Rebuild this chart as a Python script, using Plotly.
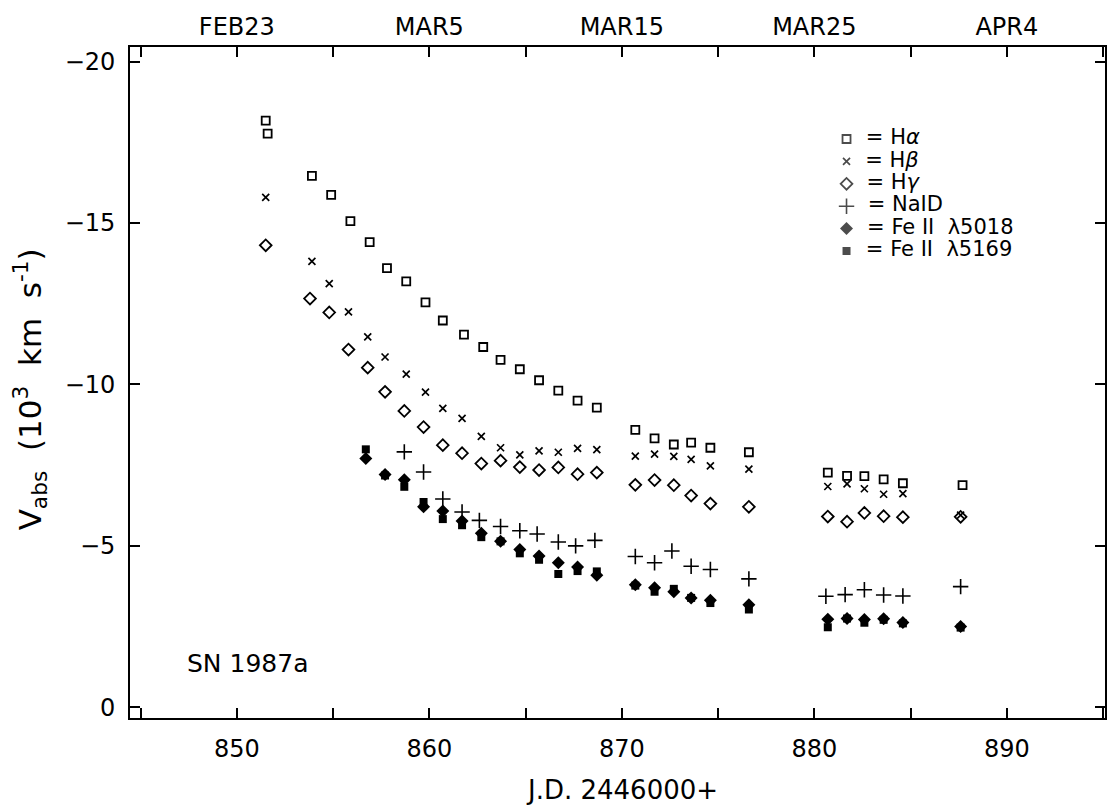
import plotly.graph_objects as go

# ---------------- data ----------------
ha_jd = [851.5, 851.6, 853.9, 854.9, 855.9, 856.9, 857.8, 858.8, 859.8, 860.7,
         861.8, 862.8, 863.7, 864.7, 865.7, 866.7, 867.7, 868.7, 870.7, 871.7,
         872.7, 873.6, 874.6, 876.6, 880.7, 881.7, 882.6, 883.6, 884.6, 887.7]
ha_v = [-18.17, -17.77, -16.46, -15.87, -15.06, -14.41, -13.60, -13.19, -12.54, -11.98,
        -11.54, -11.16, -10.76, -10.47, -10.13, -9.81, -9.50, -9.28, -8.59, -8.33,
        -8.14, -8.20, -8.04, -7.90, -7.27, -7.17, -7.16, -7.06, -6.94, -6.88]

hb_jd = [851.5, 853.9, 854.8, 855.8, 856.8, 857.7, 858.8, 859.8, 860.7,
         861.7, 862.7, 863.7, 864.7, 865.7, 866.7, 867.7, 868.7,
         870.7, 871.7, 872.7, 873.6, 874.6, 876.6,
         880.7, 881.7, 882.6, 883.6, 884.6, 887.6]
hb_v = [-15.79, -13.81, -13.12, -12.25, -11.47, -10.85, -10.32, -9.76, -9.26,
        -8.95, -8.39, -8.04, -7.82, -7.94, -7.90, -8.02, -7.98,
        -7.78, -7.84, -7.77, -7.68, -7.48, -7.38,
        -6.84, -6.92, -6.77, -6.60, -6.62, -5.95]

hg_jd = [851.5, 853.8, 854.8, 855.8, 856.8, 857.7, 858.7, 859.7, 860.7,
         861.7, 862.7, 863.7, 864.7, 865.7, 866.7, 867.7, 868.7,
         870.7, 871.7, 872.7, 873.6, 874.6, 876.6,
         880.7, 881.7, 882.6, 883.6, 884.6, 887.6]
hg_v = [-14.31, -12.66, -12.23, -11.08, -10.52, -9.77, -9.18, -8.68, -8.12,
        -7.87, -7.55, -7.64, -7.44, -7.35, -7.43, -7.22, -7.27,
        -6.89, -7.04, -6.88, -6.56, -6.31, -6.21,
        -5.91, -5.75, -6.02, -5.92, -5.89, -5.90]

na_jd = [858.7, 859.7, 860.7, 861.7, 862.6, 863.7, 864.7, 865.6, 866.7, 867.6, 868.6,
         870.7, 871.7, 872.6, 873.6, 874.6, 876.6,
         880.6, 881.6, 882.6, 883.6, 884.6, 887.6]
na_v = [-7.91, -7.29, -6.45, -6.05, -5.79, -5.60, -5.47, -5.37, -5.12, -5.00, -5.17,
        -4.67, -4.48, -4.84, -4.37, -4.27, -3.98,
        -3.44, -3.49, -3.64, -3.48, -3.45, -3.74]

fe_jd = [856.7, 857.7, 858.7, 859.7, 860.7, 861.7, 862.7, 863.7, 864.7, 865.7, 866.7, 867.7, 868.7,
         870.7, 871.7, 872.7, 873.6, 874.6, 876.6,
         880.7, 881.7, 882.6, 883.6, 884.6, 887.6]
fe5018_v = [-7.71, -7.21, -7.05, -6.21, -6.08, -5.77, -5.39, -5.14, -4.89, -4.69, -4.48, -4.35, -4.09,
            -3.80, -3.70, -3.58, -3.39, -3.32, -3.18,
            -2.73, -2.75, -2.72, -2.74, -2.63, -2.50]
fe5169_v = [-7.99, -7.18, -6.83, -6.36, -5.83, -5.64, -5.27, -5.14, -4.77, -4.57, -4.13, -4.22, -4.21,
            -3.77, -3.58, -3.67, -3.39, -3.23, -3.03,
            -2.48, -2.75, -2.62, -2.71, -2.60, -2.47]

x_major = [850, 860, 870, 880, 890]
x_labels = ["850", "860", "870", "880", "890"]
top_labels = ["FEB23", "MAR5", "MAR15", "MAR25", "APR4"]
x_minor = [845, 855, 865, 875, 885, 895]
y_tickvals = [-20, -15, -10, -5, 0]

legend_labels = ["=\u00a0H<i>α</i>", "=\u00a0H<i>β</i>", "=\u00a0H<i>γ</i>", "=\u00a0NaID",
                 "=\u00a0Fe II \u00a0λ5018", "=\u00a0Fe II \u00a0λ5169"]

# ---------------- styles ----------------
FONT = "DejaVu Sans"
BLACK = "black"
styles = [
    dict(symbol="square-open", size=8, lw=1.8),
    dict(symbol="x-thin", size=7, lw=1.7),
    dict(symbol="diamond-open", size=9, lw=1.8),
    dict(symbol="cross-thin", size=11, lw=1.6),
    dict(symbol="diamond", size=10, lw=0),
    dict(symbol="square", size=8, lw=0),
]
series = [(ha_jd, ha_v), (hb_jd, hb_v), (hg_jd, hg_v), (na_jd, na_v),
          (fe_jd, fe5018_v), (fe_jd, fe5169_v)]

fig = go.Figure()
for (xs, ys), st in zip(series, styles):
    fig.add_trace(go.Scatter(
        x=xs, y=ys, mode="markers", showlegend=False, cliponaxis=False,
        marker=dict(symbol=st["symbol"], size=st["size"], color=BLACK,
                    line=dict(width=st["lw"], color=BLACK)),
    ))

# dummy trace for top axis
fig.add_trace(go.Scatter(x=[None], y=[None], xaxis="x2", yaxis="y",
                         showlegend=False, hoverinfo="skip"))

# custom legend
rows = list(range(len(legend_labels)))
fig.add_trace(go.Scatter(
    x=[0 for _ in rows], y=rows, xaxis="x3", yaxis="y3", mode="markers+text",
    text=["\u00a0\u00a0" + t for t in legend_labels], textposition="middle right",
    textfont=dict(family=FONT, size=21, color=BLACK), cliponaxis=False,
    showlegend=False, hoverinfo="skip",
    marker=dict(symbol=[s["symbol"] for s in styles],
                size=[s["size"] for s in styles], color=BLACK,
                line=dict(width=[s["lw"] for s in styles], color=BLACK)),
))

tick_style = dict(ticks="inside", ticklen=10, tickwidth=1.5, tickcolor=BLACK)
axis_common = dict(showgrid=False, zeroline=False,
                   tickfont=dict(family=FONT, size=24, color=BLACK), **tick_style)

fig.update_layout(
    width=1108, height=808,
    margin=dict(l=130, r=1, t=47, b=90),
    paper_bgcolor="white", plot_bgcolor="white",
    xaxis=dict(range=[844.45, 895.1], tickmode="array", tickvals=x_major,
               ticktext=x_labels, showline=True, linewidth=1.6, linecolor=BLACK,
               mirror=True, ticklabelstandoff=8,
               minor=dict(tickvals=x_minor, **tick_style), **axis_common),
    xaxis2=dict(range=[844.45, 895.1], overlaying="x", side="top", anchor="y",
                tickmode="array", tickvals=x_major, ticktext=top_labels,
                showline=False, ticklabelstandoff=6,
                minor=dict(tickvals=x_minor, **tick_style), **axis_common),
    yaxis=dict(range=[0.33, -20.45], tickmode="array", tickvals=y_tickvals,
               showline=True, linewidth=1.6, linecolor=BLACK, mirror="ticks",
               ticklabelstandoff=8, **axis_common),
    xaxis3=dict(domain=[0.7247, 0.7451], range=[-1, 1], visible=False, anchor="y3"),
    yaxis3=dict(domain=[0.6793, 0.8796], range=[5.5, -0.5], visible=False, anchor="x3"),
    annotations=[
        dict(text="V<sub>abs</sub>\u00a0 (10<sup>3</sup>\u00a0 km\u00a0 s<sup>-1</sup>)",
             xref="paper", yref="paper",
             x=-0.1024, y=0.49, xanchor="center", yanchor="middle", textangle=-90,
             showarrow=False, font=dict(family=FONT, size=31, color=BLACK)),
        dict(text="J.D. 2446000+", xref="paper", yref="paper", x=0.5046, y=-0.131,
             xanchor="center", yanchor="bottom", borderpad=0, showarrow=False,
             font=dict(family=FONT, size=26, color=BLACK)),
        dict(text="SN 1987a", xref="paper", yref="paper", x=0.1208, y=0.0805,
             xanchor="center", yanchor="middle", showarrow=False,
             font=dict(family=FONT, size=25, color=BLACK)),
    ],
)

fig.write_html("out.html", config={"displayModeBar": False},
               post_script="document.body.style.margin='0';")
